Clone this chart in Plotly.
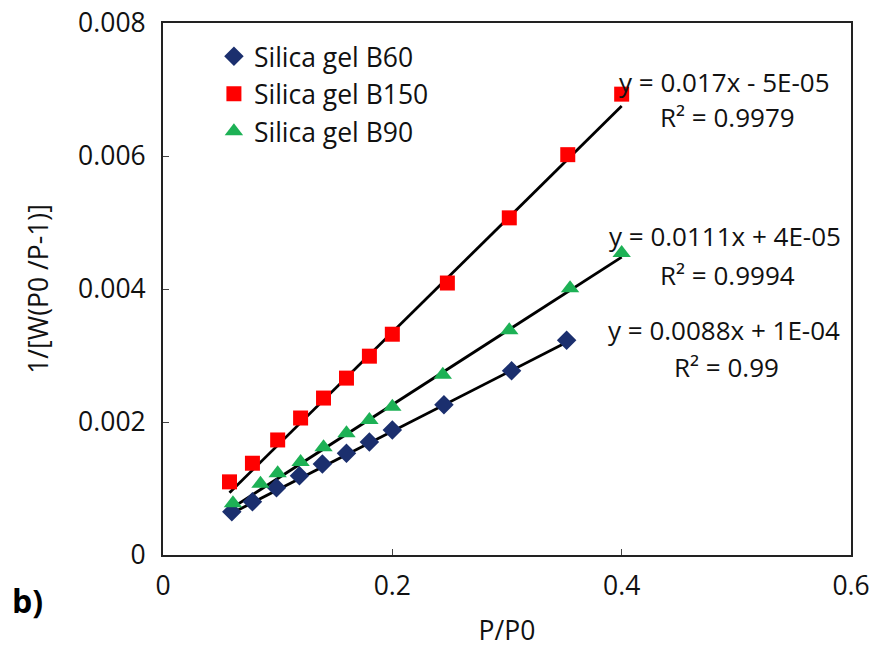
import plotly.graph_objects as go

# ---- data ----
x_b60 = [0.060, 0.078, 0.099, 0.119, 0.139, 0.160, 0.180, 0.200, 0.245, 0.304, 0.352]
y_b60 = [0.00065, 0.00080, 0.00101, 0.00119, 0.00137, 0.00153, 0.00170, 0.00188, 0.00226, 0.00277, 0.00323]

x_b150 = [0.058, 0.078, 0.100, 0.120, 0.140, 0.160, 0.180, 0.200, 0.248, 0.302, 0.353, 0.400]
y_b150 = [0.00110, 0.00138, 0.00173, 0.00206, 0.00236, 0.00266, 0.00299, 0.00332, 0.00409, 0.00507, 0.00602, 0.00693]

x_b90 = [0.061, 0.085, 0.100, 0.120, 0.140, 0.160, 0.180, 0.200, 0.244, 0.302, 0.355, 0.400]
y_b90 = [0.00078, 0.00107, 0.00123, 0.00140, 0.00162, 0.00183, 0.00203, 0.00223, 0.00271, 0.00338, 0.00401, 0.00454]

# trendline coefficients (from the equations shown)
slope = {"B60": 0.0088, "B150": 0.017, "B90": 0.0111}
intercept = {"B60": 1e-4, "B150": -5e-5, "B90": 4e-5}
eq_text = {"B60": "y = 0.0088x + 1E-04", "B150": "y = 0.017x - 5E-05", "B90": "y = 0.0111x + 4E-05"}
r2_text = {"B60": "R² = 0.99", "B150": "R² = 0.9979", "B90": "R² = 0.9994"}

x_ticks = [0, 0.2, 0.4, 0.6]
x_ticktext = ["0", "0.2", "0.4", "0.6"]
y_ticks = [0, 0.002, 0.004, 0.006, 0.008]
y_ticktext = ["0", "0.002", "0.004", "0.006", "0.008"]

FONT = "Open Sans"
FS = 26
series = [
    ("B60", "Silica gel B60", x_b60, y_b60, "diamond", "#1B2F6E", 15),
    ("B150", "Silica gel B150", x_b150, y_b150, "square", "#FF0000", 15),
    ("B90", "Silica gel B90", x_b90, y_b90, "triangle-up", "#1DB155", 16),
]

fig = go.Figure()
# trendlines first (drawn under markers)
for key, name, xs, ys, sym, col, sz in series:
    x0, x1 = min(xs), max(xs)
    fig.add_trace(go.Scatter(
        x=[x0, x1], y=[slope[key] * x0 + intercept[key], slope[key] * x1 + intercept[key]],
        mode="lines", line=dict(color="black", width=2.8), showlegend=False, hoverinfo="skip"))

for key, name, xs, ys, sym, col, sz in series:
    fig.add_trace(go.Scatter(
        x=xs, y=ys, mode="markers", name=name, legendgroup=key,
        marker=dict(symbol=sym, color=col, size=sz, line=dict(width=0))))

# equation annotations
ann_pos = {"B150": (0.490, 0.00712, 0.00658), "B90": (0.490, 0.00479, 0.00421), "B60": (0.489, 0.00339, 0.00283)}
annotations = []
for key, (ax, ye, yr) in ann_pos.items():
    annotations.append(dict(x=ax, y=ye, xref="x", yref="y", text=eq_text[key], showarrow=False, borderpad=0,
                            xanchor="center", yanchor="middle", font=dict(family=FONT, size=FS, color="#111")))
    annotations.append(dict(x=ax + 0.002, y=yr, xref="x", yref="y", text=r2_text[key], showarrow=False, borderpad=0,
                            xanchor="center", yanchor="middle", font=dict(family=FONT, size=FS, color="#111")))
annotations.append(dict(x=-0.222, y=-0.085, xref="paper", yref="paper", text="<b>b)</b>", showarrow=False,
                        xanchor="left", yanchor="middle", font=dict(family=FONT, size=32, color="black")))

fig.update_layout(
    width=876, height=649,
    margin=dict(l=163, r=25, t=23, b=94, autoexpand=False),
    paper_bgcolor="white", plot_bgcolor="white",
    font=dict(family=FONT, size=FS, color="#111"),
    showlegend=True,
    legend=dict(x=0.074, y=0.982, xanchor="left", yanchor="top", bgcolor="rgba(0,0,0,0)",
                font=dict(family=FONT, size=FS + 0.5, color="#111"), tracegroupgap=0, itemwidth=30),
    annotations=annotations,
)
fig.update_xaxes(range=[0, 0.6], tickvals=x_ticks, ticktext=x_ticktext, ticks="inside", ticklen=6,
                 tickcolor="#444", showline=True, linecolor="#222", linewidth=2, mirror=True,
                 showgrid=False, zeroline=False, tickfont=dict(family=FONT, size=FS + 0.5, color="#111"),
                 ticklabelstandoff=6, automargin=False,
                 title=dict(text="P/P0", font=dict(family=FONT, size=FS + 0.5, color="#111"), standoff=20))
fig.update_yaxes(range=[0, 0.008], tickvals=y_ticks, ticktext=y_ticktext, ticks="inside", ticklen=6,
                 tickcolor="#444", showline=True, linecolor="#222", linewidth=2, mirror=True,
                 showgrid=False, zeroline=False, tickfont=dict(family=FONT, size=FS + 0.5, color="#111"),
                 ticklabelstandoff=10, automargin=False,
                 title=dict(text="1/[W(P0 /P-1)]", font=dict(family=FONT, size=FS + 0.5, color="#111"), standoff=22))

fig.write_html("out.html")
